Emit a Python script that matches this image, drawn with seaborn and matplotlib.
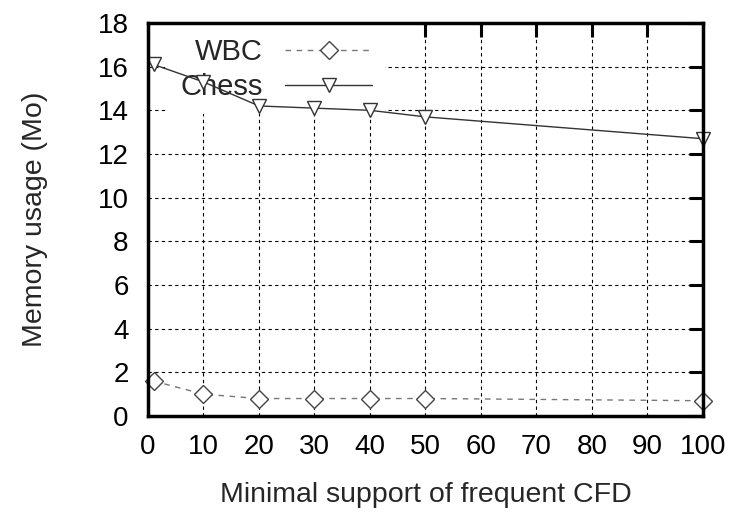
import numpy as np
import pandas as pd
import matplotlib
matplotlib.use("Agg")
import matplotlib.pyplot as plt
import seaborn as sns

# Data (first point sits just right of 0)
min_support = [1, 10, 20, 30, 40, 50, 100]
wbc_memory = [1.6, 1.0, 0.8, 0.8, 0.8, 0.8, 0.7]
chess_memory = [16.1, 15.3, 14.2, 14.1, 14.0, 13.7, 12.7]

x_ticks = list(range(0, 101, 10))
y_ticks = list(range(0, 19, 2))

sns.set_theme(style="white")
plt.rcParams["font.family"] = ["Liberation Sans", "DejaVu Sans"]

fig = plt.figure(figsize=(7.41, 5.12), dpi=100)
ax = fig.add_axes([0.1997, 0.1875, 0.749, 0.7676])

wbc_df = pd.DataFrame({"support": min_support, "memory": wbc_memory})
chess_df = pd.DataFrame({"support": min_support, "memory": chess_memory})

sns.lineplot(data=wbc_df, x="support", y="memory", ax=ax, color="#777777",
             linestyle=(0, (4, 4)), linewidth=1.0, marker="D", markersize=9,
             markerfacecolor="white", markeredgecolor="#444444",
             markeredgewidth=1.0, label="WBC", zorder=3, clip_on=False)
sns.lineplot(data=chess_df, x="support", y="memory", ax=ax, color="#333333",
             linewidth=1.0, marker="v", markersize=10,
             markerfacecolor="white", markeredgecolor="#333333",
             markeredgewidth=1.0, label="Chess", zorder=3, clip_on=False)

ax.set_xlim(0, 100)
ax.set_ylim(0, 18)
ax.set_xticks(x_ticks)
ax.set_yticks(y_ticks)
ax.set_xlabel("Minimal support of frequent CFD", fontsize=20.5, labelpad=16)
ax.set_ylabel("Memory usage (Mo)", fontsize=20.5, labelpad=36)

ax.grid(True, color="black", linestyle=(0, (3, 3)), linewidth=0.8)
ax.set_axisbelow(True)
ax.tick_params(axis="both", direction="in", length=10, width=2.2,
               labelsize=20, top=True, right=True, colors="black")
ax.tick_params(axis="x", pad=13)
ax.tick_params(axis="y", pad=14)
for sp in ax.spines.values():
    sp.set_linewidth(2.5)
    sp.set_color("black")
    sp.set_zorder(4)

leg = ax.legend(loc="upper left", bbox_to_anchor=(0.035, 0.995), markerfirst=False,
                frameon=True, fancybox=False, fontsize=21, handlelength=3.0,
                handletextpad=0.75, labelspacing=0.25, borderpad=0.45,
                borderaxespad=0.0)
leg.get_frame().set_edgecolor("none")
leg.get_frame().set_facecolor("white")
leg.get_frame().set_alpha(1.0)
leg.set_zorder(2.5)

fig.savefig("out.png", dpi=100)
